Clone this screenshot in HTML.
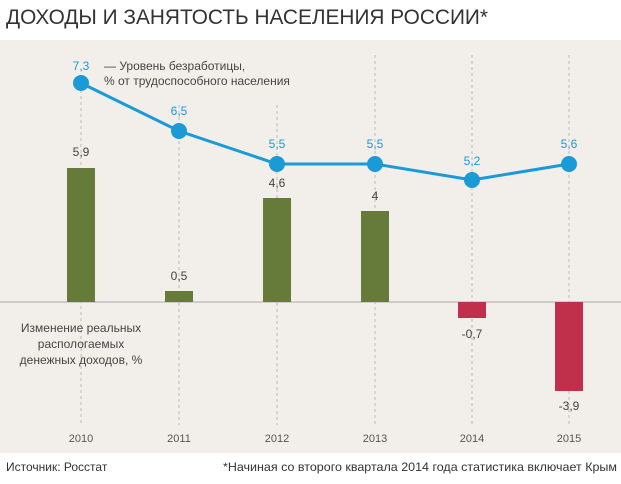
<!DOCTYPE html>
<html><head><meta charset="utf-8"><style>
body{margin:0;width:621px;height:479px;background:#fff;overflow:hidden;font-family:"Liberation Sans",sans-serif}
</style></head><body>
<svg width="621" height="479" xmlns="http://www.w3.org/2000/svg" font-family="Liberation Sans, sans-serif">
<text x="6" y="24" font-size="21" fill="#333" textLength="482" lengthAdjust="spacingAndGlyphs">ДОХОДЫ И ЗАНЯТОСТЬ НАСЕЛЕНИЯ РОССИИ*</text>
<rect x="0" y="40" width="621" height="413" fill="#f2efea"/>
<g stroke="#bbb" stroke-width="1" stroke-dasharray="3,3">
<line x1="81" y1="90" x2="81" y2="425"/><line x1="179" y1="105" x2="179" y2="425"/>
<line x1="277" y1="105" x2="277" y2="425"/><line x1="375" y1="55" x2="375" y2="425"/>
<line x1="472" y1="55" x2="472" y2="425"/><line x1="569" y1="55" x2="569" y2="425"/>
</g>
<line x1="0" y1="302" x2="621" y2="302" stroke="#aaa" stroke-width="1"/>
<g fill="#667b3a">
<rect x="67" y="168" width="28" height="134"/><rect x="165" y="291" width="28" height="11"/>
<rect x="263" y="198" width="28" height="104"/><rect x="361" y="211" width="28" height="91"/>
</g>
<g fill="#c1304a">
<rect x="458" y="302" width="28" height="16"/><rect x="555" y="302" width="28" height="89"/>
</g>
<polyline points="81,83 179,131 277,164 375,164 472,180 569,164" fill="none" stroke="#1a9ad6" stroke-width="3"/>
<g fill="#1a9ad6">
<circle cx="81" cy="83" r="8"/><circle cx="179" cy="131" r="8"/><circle cx="277" cy="164" r="8"/>
<circle cx="375" cy="164" r="8"/><circle cx="472" cy="180" r="8"/><circle cx="569" cy="164" r="8"/>
</g>
<g font-size="12" fill="#1a9ad6" text-anchor="middle">
<text x="81" y="70">7,3</text><text x="179" y="115">6,5</text><text x="277" y="148">5,5</text>
<text x="375" y="148">5,5</text><text x="472" y="165">5,2</text><text x="569" y="148">5,6</text>
</g>
<g font-size="12" fill="#444" text-anchor="middle">
<text x="81" y="156">5,9</text><text x="179" y="280">0,5</text><text x="277" y="187">4,6</text>
<text x="375" y="200">4</text><text x="472" y="338">-0,7</text><text x="569" y="410">-3,9</text>
</g>
<g font-size="12" fill="#444">
<text x="104" y="70">— Уровень безработицы,</text>
<text x="104" y="85">% от трудоспособного населения</text>
</g>
<g font-size="12" fill="#444" text-anchor="middle">
<text x="81" y="332">Изменение реальных</text>
<text x="81" y="348">распологаемых</text>
<text x="81" y="364">денежных доходов, %</text>
</g>
<g font-size="11" fill="#555" text-anchor="middle">
<text x="81" y="442">2010</text><text x="179" y="442">2011</text><text x="277" y="442">2012</text>
<text x="375" y="442">2013</text><text x="472" y="442">2014</text><text x="569" y="442">2015</text>
</g>
<text x="6" y="471" font-size="12" fill="#333">Источник: Росстат</text>
<text x="617" y="471" font-size="12" fill="#333" text-anchor="end" textLength="394" lengthAdjust="spacingAndGlyphs">*Начиная со второго квартала 2014 года статистика включает Крым</text>
</svg>
</body></html>
